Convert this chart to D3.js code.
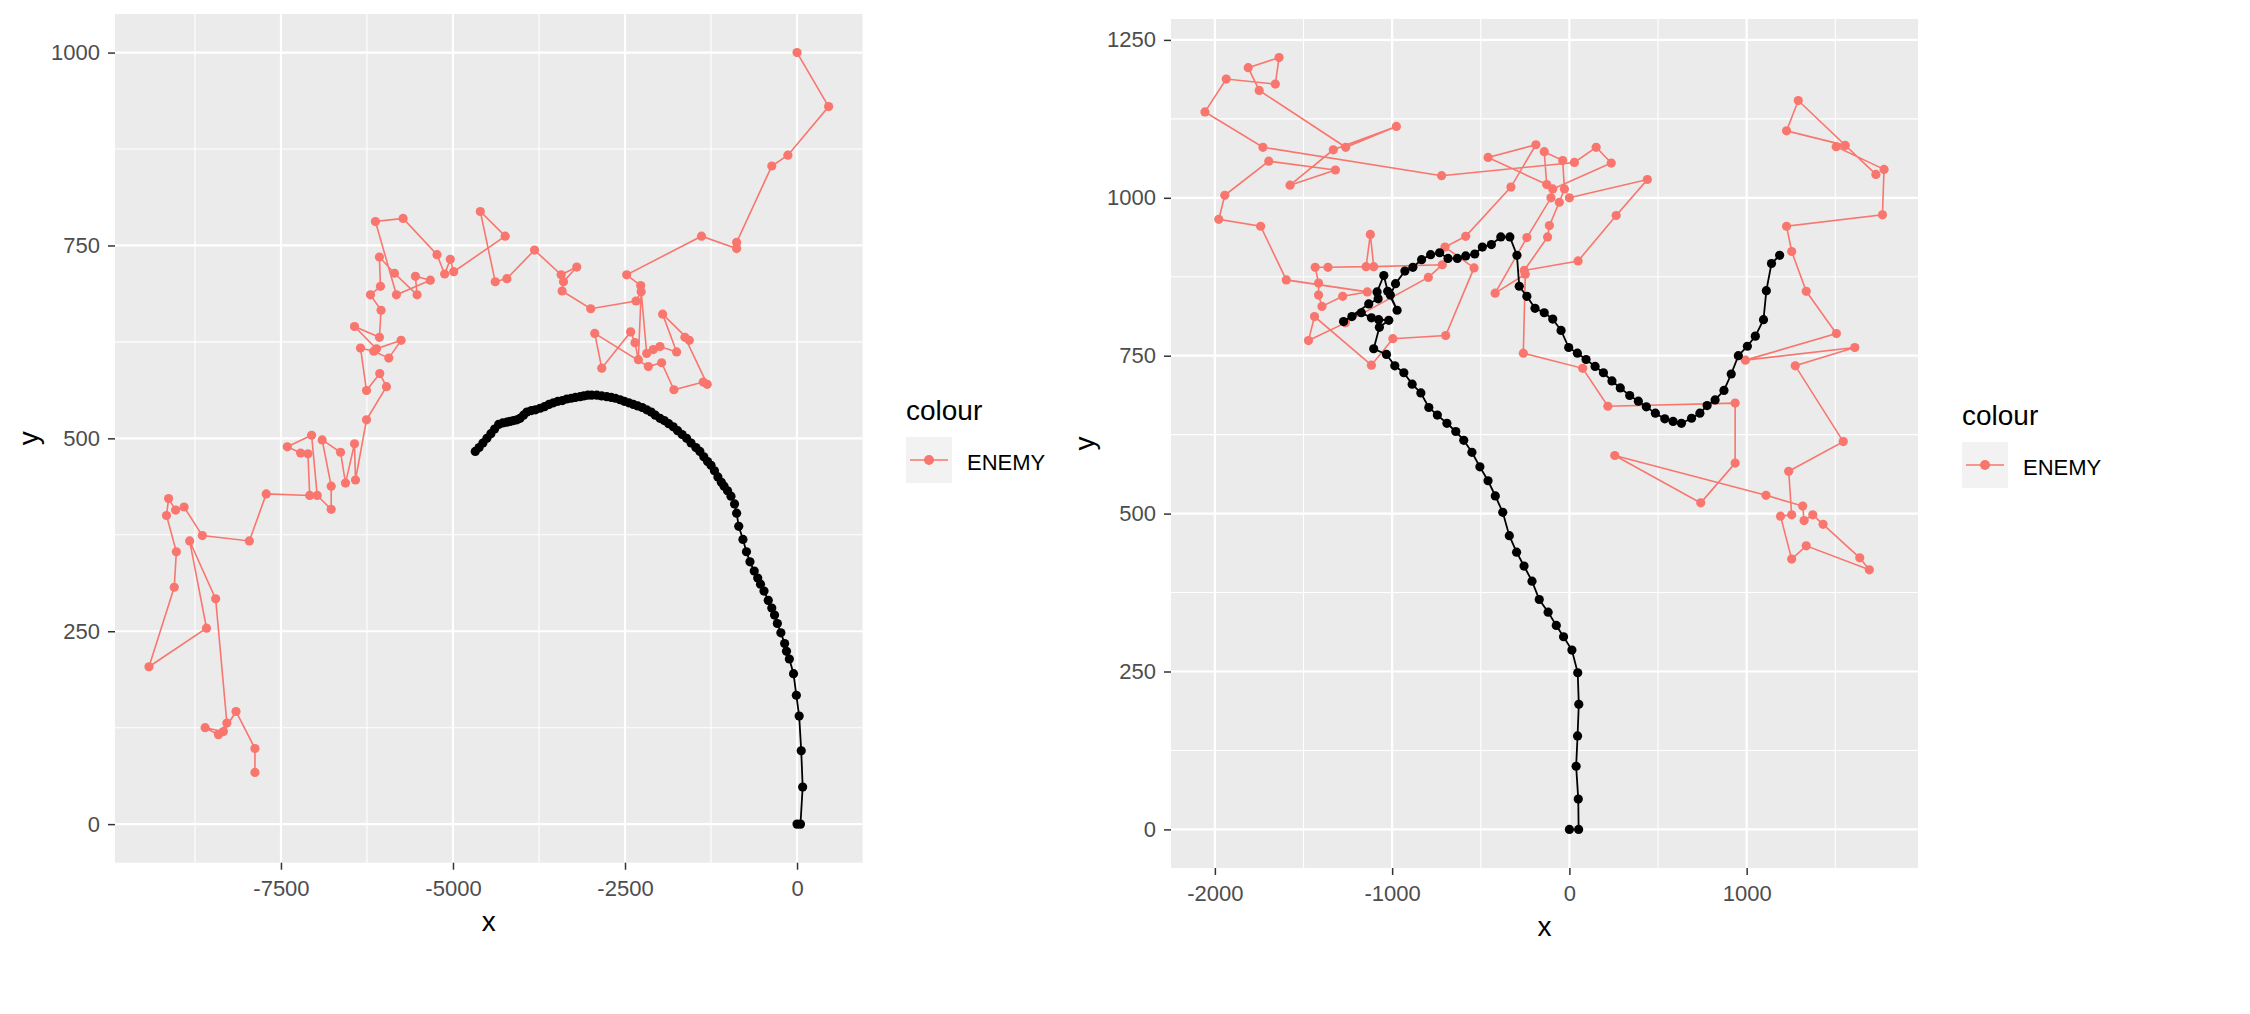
<!DOCTYPE html>
<html>
<head>
<meta charset="utf-8">
<script src="https://cdn.jsdelivr.net/npm/d3@7"></script>
<style>
  body { margin: 0; background: #fff; }
  text { font-family: "Liberation Sans", Arial, sans-serif; }
</style>
</head>
<body>
<svg id="chart" width="2250" height="1014"></svg>
<script>
// left plot: enemy track (red) and own track (black), [x, y]
var leftEnemy = [[0,1000],[459,930],[-133,867],[-367,853],[-878,754],[-878,746],[-1388,762],[-2476,712],[-2272,698],[-2185,610],[-2089,615],[-1992,619],[-1750,612],[-1953,661],[-1566,627],[-1629,631],[-1305,570],[-1363,573],[-1789,563],[-1968,598],[-2161,593],[-2940,636],[-2838,591],[-2418,638],[-2355,624],[-2306,602],[-2265,690],[-2340,678],[-2998,668],[-3414,691],[-3394,703],[-3201,722],[-3428,712],[-3815,744],[-4217,707],[-4386,703],[-4603,794],[-4241,762],[-4990,716],[-5039,732],[-5121,713],[-5232,738],[-5725,785],[-6127,781],[-5822,686],[-5329,705],[-5546,710],[-5522,686],[-5851,714],[-6069,735],[-6054,697],[-6199,686],[-6045,666],[-6069,631],[-6431,645],[-6112,616],[-5754,627],[-5933,604],[-6151,613],[-6344,617],[-6257,562],[-6064,584],[-5967,567],[-6257,524],[-6417,446],[-6431,493],[-6562,442],[-6634,482],[-6901,498],[-6770,438],[-6770,408],[-6973,426],[-7055,504],[-7408,489],[-7214,481],[-7108,480],[-7082,426],[-7714,428],[-7959,367],[-8643,374],[-8908,411],[-9031,407],[-9133,422],[-9163,400],[-9020,353],[-9051,307],[-9418,204],[-8582,254],[-8827,367],[-8449,292],[-8286,131],[-8408,116],[-8602,125],[-8337,120],[-8153,146],[-7878,98],[-7878,67]];

var leftPlayer = [[0,0],[50,0],[82,48],[61,95],[31,140],[-10,167],[-51,195],[-112,214],[-153,224],[-180,234],[-235,248],[-286,260],[-327,271],[-367,280],[-418,290],[-480,302],[-531,311],[-571,319],[-622,328],[-684,340],[-735,353],[-786,369],[-847,386],[-878,403],[-908,415],[-960,425],[-1010,432],[-1060,438],[-1100,443],[-1150,450],[-1200,458],[-1250,465],[-1300,470],[-1355,476],[-1412,483],[-1470,488],[-1540,494],[-1605,500],[-1670,505],[-1735,510],[-1799,515],[-1865,519],[-1930,523],[-1992,526],[-2060,530],[-2120,534],[-2185,537],[-2250,540],[-2315,542],[-2379,544],[-2445,546],[-2510,548],[-2572,550],[-2640,552],[-2700,553],[-2766,554],[-2840,555],[-2910,556],[-2983,556],[-3040,556],[-3100,555],[-3153,554],[-3220,553],[-3280,552],[-3346,551],[-3410,549],[-3475,548],[-3540,546],[-3605,544],[-3670,541],[-3733,539],[-3800,537],[-3860,536],[-3926,534],[-3975,530],[-4025,526],[-4071,524],[-4120,523],[-4170,522],[-4217,521],[-4277,520],[-4337,518],[-4395,512],[-4450,506],[-4507,500],[-4565,494],[-4620,488],[-4676,483]];

// right plot
var rightEnemy = [[1729,1037],[1291,1154],[1225,1106],[1556,1083],[1505,1081],[1775,1045],[1766,973],[1225,955],[1254,915],[1336,852],[1506,785],[993,743],[1610,763],[1274,734],[1545,614],[1237,567],[1254,498],[1191,496],[1254,428],[1336,449],[1692,411],[1638,430],[1431,483],[1373,498],[1324,489],[1316,512],[1109,529],[256,592],[741,517],[935,580],[935,675],[217,670],[75,730],[-260,754],[-249,879],[-419,849],[-240,937],[-104,1000],[-94,1014],[236,1055],[151,1080],[28,1056],[-721,1035],[-1729,1080],[-2056,1136],[-1936,1188],[-1659,1180],[-1638,1222],[-1812,1206],[-1750,1170],[-1262,1080],[-976,1113],[-1332,1076],[-1576,1020],[-1320,1044],[-1696,1058],[-1944,1004],[-1978,966],[-1742,955],[-1597,870],[-1140,851],[-1279,844],[-1396,828],[-1415,846],[-1415,865],[-1434,890],[-1362,890],[-1147,891],[-1123,942],[-1104,891],[-717,894],[-796,874],[-1264,802],[-1472,774],[-1438,812],[-1117,735],[-996,777],[-698,782],[-538,889],[-702,922],[-585,939],[-330,1017],[-189,1084],[-459,1064],[-128,1021],[-142,1073],[-38,1059],[-28,1014],[-57,993],[-113,956],[-123,938],[-255,885],[49,900],[264,972],[440,1029],[0,1000]];

var rightPlayer = [[0,0],[52,0],[50,48],[38,100],[46,148],[53,198],[47,248],[14,284],[-33,305],[-74,323],[-120,344],[-170,364],[-211,393],[-256,417],[-298,439],[-339,465],[-376,502],[-418,528],[-459,552],[-505,574],[-550,597],[-596,616],[-641,630],[-691,643],[-745,656],[-793,668],[-838,691],[-887,705],[-934,723],[-985,734],[-1032,752],[-1104,761],[-1072,795],[-1019,806],[-1076,807],[-1117,810],[-1174,818],[-1227,812],[-1274,804],[-1132,832],[-1079,840],[-1085,851],[-1047,877],[-1025,852],[-972,822],[-1010,846],[-981,864],[-928,884],[-883,890],[-834,902],[-783,910],[-732,913],[-685,904],[-632,904],[-585,908],[-534,911],[-491,922],[-440,926],[-387,938],[-336,938],[-296,909],[-283,860],[-240,844],[-194,825],[-142,818],[-94,808],[-47,790],[-4,763],[45,754],[94,744],[145,733],[192,723],[240,710],[287,699],[340,687],[389,678],[434,669],[485,659],[538,650],[585,646],[632,643],[689,651],[736,659],[777,671],[822,680],[872,695],[913,721],[953,750],[1004,765],[1049,781],[1095,807],[1111,853],[1140,896],[1186,909]];

var leftXTicks = [-7500, -5000, -2500, 0];
var leftYTicks = [0, 250, 500, 750, 1000];
var rightXTicks = [-2000, -1000, 0, 1000];
var rightYTicks = [0, 250, 500, 750, 1000, 1250];

var legendTitle = "colour";
var legendLabel = "ENEMY";

const enemyColor = "#F8766D";
const panelFill = "#EBEBEB";
const pointR = 4.6;

var svg = d3.select("#chart");

// ggplot style: 5% expansion of the data range
function expand(ext) {
    var pad = (ext[1] - ext[0]) * 0.05;
    return [ext[0] - pad, ext[1] + pad];
}

function minorBreaks(ticks, domain) {
    var step = ticks[1] - ticks[0];
    var out = [];
    for (var v = ticks[0] - step / 2; v <= ticks[ticks.length - 1] + step; v += step) {
        if (v >= domain[0] && v <= domain[1]) out.push(v);
    }
    return out;
}

function drawPanel(box, enemy, player, xTicks, yTicks, legendPos) {
    var all = enemy.concat(player);
    var x = d3.scaleLinear()
        .domain(expand(d3.extent(all, d => d[0])))
        .range([box.left, box.right]);
    var y = d3.scaleLinear()
        .domain(expand(d3.extent(all, d => d[1])))
        .range([box.bottom, box.top]);

    var g = svg.append("g");

    g.append("rect")
        .attr("x", box.left).attr("y", box.top)
        .attr("width", box.right - box.left)
        .attr("height", box.bottom - box.top)
        .attr("fill", panelFill);

    // minor grid
    g.append("g").selectAll("line")
        .data(minorBreaks(xTicks, x.domain()))
        .enter().append("line")
        .attr("x1", d => x(d)).attr("x2", d => x(d))
        .attr("y1", box.top).attr("y2", box.bottom)
        .attr("stroke", "#fff").attr("stroke-width", 1.1);
    g.append("g").selectAll("line")
        .data(minorBreaks(yTicks, y.domain()))
        .enter().append("line")
        .attr("y1", d => y(d)).attr("y2", d => y(d))
        .attr("x1", box.left).attr("x2", box.right)
        .attr("stroke", "#fff").attr("stroke-width", 1.1);

    // major grid
    g.append("g").selectAll("line")
        .data(xTicks)
        .enter().append("line")
        .attr("x1", d => x(d)).attr("x2", d => x(d))
        .attr("y1", box.top).attr("y2", box.bottom)
        .attr("stroke", "#fff").attr("stroke-width", 2.2);
    g.append("g").selectAll("line")
        .data(yTicks)
        .enter().append("line")
        .attr("y1", d => y(d)).attr("y2", d => y(d))
        .attr("x1", box.left).attr("x2", box.right)
        .attr("stroke", "#fff").attr("stroke-width", 2.2);

    var line = d3.line().x(d => x(d[0])).y(d => y(d[1]));

    g.append("path")
        .datum(enemy)
        .attr("d", line)
        .attr("fill", "none")
        .attr("stroke", enemyColor)
        .attr("stroke-width", 1.6);
    g.append("g").selectAll("circle")
        .data(enemy)
        .enter().append("circle")
        .attr("cx", d => x(d[0])).attr("cy", d => y(d[1]))
        .attr("r", pointR)
        .attr("fill", enemyColor);

    g.append("path")
        .datum(player)
        .attr("d", line)
        .attr("fill", "none")
        .attr("stroke", "#000")
        .attr("stroke-width", 1.8);
    g.append("g").selectAll("circle")
        .data(player)
        .enter().append("circle")
        .attr("cx", d => x(d[0])).attr("cy", d => y(d[1]))
        .attr("r", pointR)
        .attr("fill", "#000");

    // axes
    var fmt = d => String(d);
    var ax = g.append("g")
        .attr("transform", "translate(0," + box.bottom + ")")
        .call(d3.axisBottom(x).tickValues(xTicks).tickFormat(fmt).tickSize(7).tickSizeOuter(0).tickPadding(10.5));
    var ay = g.append("g")
        .attr("transform", "translate(" + box.left + ",0)")
        .call(d3.axisLeft(y).tickValues(yTicks).tickFormat(fmt).tickSize(7).tickSizeOuter(0).tickPadding(8));
    [ax, ay].forEach(function(a) {
        a.select(".domain").remove();
        a.selectAll(".tick line").attr("stroke", "#333333").attr("stroke-width", 1.5);
        a.selectAll(".tick text")
            .attr("fill", "#4D4D4D")
            .attr("font-size", 22)
            .attr("font-family", "Liberation Sans, Arial, sans-serif");
    });

    // axis titles
    g.append("text")
        .attr("x", (box.left + box.right) / 2)
        .attr("y", box.bottom + 68)
        .attr("text-anchor", "middle")
        .attr("font-size", 28)
        .text("x");
    g.append("text")
        .attr("transform", "translate(" + (box.left - 77) + "," + ((box.top + box.bottom) / 2) + ") rotate(-90)")
        .attr("text-anchor", "middle")
        .attr("font-size", 28)
        .text("y");

    // legend
    var lg = g.append("g").attr("transform", "translate(" + legendPos[0] + "," + legendPos[1] + ")");
    lg.append("text")
        .attr("x", 0).attr("y", -17)
        .attr("font-size", 28)
        .text(legendTitle);
    lg.append("rect")
        .attr("x", 0).attr("y", 0)
        .attr("width", 46).attr("height", 46)
        .attr("fill", "#F2F2F2");
    lg.append("line")
        .attr("x1", 4).attr("x2", 42)
        .attr("y1", 23).attr("y2", 23)
        .attr("stroke", enemyColor).attr("stroke-width", 1.6);
    lg.append("circle")
        .attr("cx", 23).attr("cy", 23).attr("r", pointR + 0.4)
        .attr("fill", enemyColor);
    lg.append("text")
        .attr("x", 61).attr("y", 33)
        .attr("font-size", 22)
        .text(legendLabel);
}

drawPanel({left: 115, right: 862.6, top: 14, bottom: 862.7}, leftEnemy, leftPlayer, leftXTicks, leftYTicks, [906, 437]);
drawPanel({left: 1171, right: 1918, top: 19, bottom: 868}, rightEnemy, rightPlayer, rightXTicks, rightYTicks, [1962, 442]);
</script>
</body>
</html>
